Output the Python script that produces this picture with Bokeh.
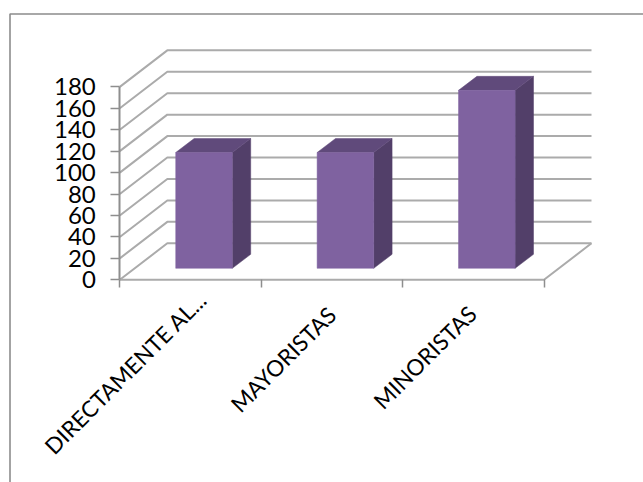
from math import pi

from bokeh.core.properties import value
from bokeh.embed import file_html
from bokeh.models import ColumnDataSource, FixedTicker, Range1d
from bokeh.plotting import figure
from bokeh.resources import INLINE

# Chart data
categories = ["DIRECTAMENTE AL...", "MAYORISTAS", "MINORISTAS"]
bar_values = [108, 108, 166]
y_ticks = [0, 20, 40, 60, 80, 100, 120, 140, 160, 180]

# Page size and scale of the chart plane
WIDTH, HEIGHT = 643, 482
ORIGIN_X, ORIGIN_Y = 119.3, 279.3   # pixel position of the (0, 0) corner
PX_PER_CATEGORY = 141.4
PX_PER_UNIT = 1.072

# Oblique projection of the 3-D box, expressed in data units
WALL_DX = 47.5 / PX_PER_CATEGORY
WALL_DY = 36.5 / PX_PER_UNIT
BAR_WIDTH = 0.40
BAR_CENTER = 0.493
BAR_SIDE_DX = 18.4 / PX_PER_CATEGORY
BAR_SIDE_DY = 14.0 / PX_PER_UNIT
BAR_LIFT_DX = 14.5 / PX_PER_CATEGORY
BAR_LIFT_DY = 11.5 / PX_PER_UNIT

GRID = "#ababab"
AXIS = "#8e8e8e"
FRONT = "#7f62a0"
SIDE = "#523f69"
TOP = "#604a7b"
FRAME = "#8c8c8c"


def px_x(px):
    return (px - ORIGIN_X) / PX_PER_CATEGORY


def px_y(px):
    return (ORIGIN_Y - px) / PX_PER_UNIT


p = figure(
    width=WIDTH,
    height=HEIGHT,
    output_backend="svg",
    toolbar_location=None,
    min_border=0,
    x_range=Range1d(px_x(0), px_x(WIDTH)),
    y_range=Range1d(px_y(HEIGHT), px_y(0)),
    outline_line_color=None,
    background_fill_color="white",
    border_fill_color="white",
)
p.grid.visible = False

# Outer frame of the chart area: top and left edges only
p.line([px_x(9.5), px_x(9.5), px_x(WIDTH)], [px_y(HEIGHT), px_y(13.5), px_y(13.5)],
       line_color=FRAME, line_width=1.6)

# Side wall and back wall gridlines, one per y tick
n_cat = len(categories)
for t in y_ticks:
    p.line([0, WALL_DX, n_cat + WALL_DX], [t, t + WALL_DY, t + WALL_DY],
           line_color=GRID, line_width=2)

# Floor: front edge and right edge
p.line([0, n_cat, n_cat + WALL_DX], [0, 0, WALL_DY], line_color=GRID, line_width=2)

# Bars drawn as front, side and top faces
front_x, front_y, side_x, side_y, top_x, top_y = [], [], [], [], [], []
for i, v in enumerate(bar_values):
    x0 = i + BAR_CENTER - BAR_WIDTH / 2 + BAR_LIFT_DX
    x1 = x0 + BAR_WIDTH
    y0 = BAR_LIFT_DY
    y1 = y0 + v
    front_x.append([x0, x1, x1, x0])
    front_y.append([y0, y0, y1, y1])
    side_x.append([x1, x1 + BAR_SIDE_DX, x1 + BAR_SIDE_DX, x1])
    side_y.append([y0, y0 + BAR_SIDE_DY, y1 + BAR_SIDE_DY, y1])
    top_x.append([x0, x1, x1 + BAR_SIDE_DX, x0 + BAR_SIDE_DX])
    top_y.append([y1, y1, y1 + BAR_SIDE_DY, y1 + BAR_SIDE_DY])

p.patches(side_x, side_y, fill_color=SIDE, line_color=SIDE, line_width=0.5)
p.patches(top_x, top_y, fill_color=TOP, line_color=TOP, line_width=0.5)
p.patches(front_x, front_y, fill_color=FRONT, line_color=FRONT, line_width=0.5)

# Axes pinned to the front corner of the box
p.yaxis.fixed_location = 0
p.yaxis.bounds = (y_ticks[0], y_ticks[-1])
p.yaxis.ticker = FixedTicker(ticks=y_ticks)
p.yaxis.axis_line_color = AXIS
p.yaxis.axis_line_width = 2
p.yaxis.major_tick_line_color = AXIS
p.yaxis.major_tick_line_width = 1.5
p.yaxis.major_tick_out = 9
p.yaxis.major_tick_in = 0
p.yaxis.minor_tick_line_color = None
p.yaxis.major_label_text_font = "Lato"
p.yaxis.major_label_text_font_size = "24px"
p.yaxis.major_label_text_color = "black"
p.yaxis.major_label_standoff = 15

# Only boundary ticks on the category axis, carried as minor ticks
p.xaxis.fixed_location = 0
p.xaxis.bounds = (0, n_cat)
p.xaxis.ticker = FixedTicker(ticks=[], minor_ticks=list(range(n_cat + 1)))
p.xaxis.axis_line_color = None
p.xaxis.major_tick_line_color = None
p.xaxis.minor_tick_line_color = AXIS
p.xaxis.minor_tick_line_width = 1.5
p.xaxis.minor_tick_out = 8
p.xaxis.minor_tick_in = 0

# Rotated category labels, right-aligned below each category centre
labels = ColumnDataSource(dict(
    x=[i + 0.5 for i in range(n_cat)],
    y=[0] * n_cat,
    text=categories,
    dx=[12, 0, -1],
    dy=[16, 31, 30],
))
p.text("x", "y", text="text", source=labels, angle=pi / 4,
       text_align="right", text_baseline="middle",
       text_font=value("Lato"), text_font_size="22.5px", text_color="black",
       x_offset="dx", y_offset="dy")

open("out.html", "w").write(file_html(p, INLINE))
